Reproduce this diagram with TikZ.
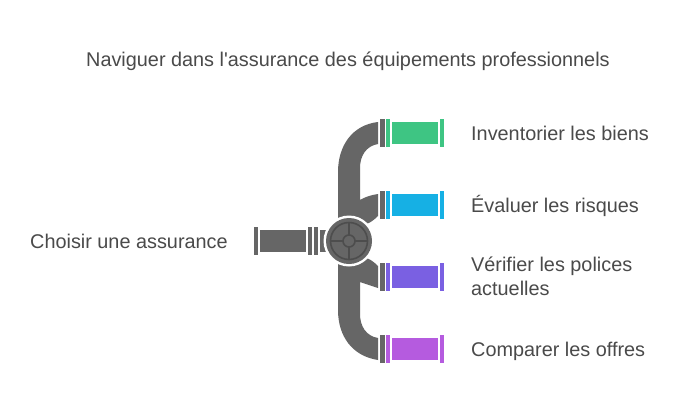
\documentclass[tikz,border=0pt]{standalone}
\usepackage{fontspec}
\newfontfamily\labelfont{Liberation Sans}
\definecolor{pipegray}{HTML}{666666}
\definecolor{valvedark}{HTML}{4D4D4D}
\definecolor{textgray}{HTML}{4A4A4A}
\definecolor{invgreen}{HTML}{3EC583}
\definecolor{riskblue}{HTML}{16B0E4}
\definecolor{polviolet}{HTML}{7A60E2}
\definecolor{offmauve}{HTML}{B55BDF}
\tikzset{
  pipe/.style={fill=pipegray, draw=none},
  label/.style={text=textgray, font=\labelfont\fontsize{19.85}{24}\selectfont, anchor=west, inner sep=0pt, align=left},
  spoke/.style={draw=valvedark, line width=1.6pt}
}
\newcommand{\flanges}[1]{
  \fill[pipegray] (380,-14) rectangle (384.5,14);
  \fill[#1] (386,-14) rectangle (390,14);
  \fill[#1] (392,-11) rectangle (438,11);
  \fill[#1] (440,-14) rectangle (444,14);
}
\begin{document}
\begin{tikzpicture}[x=1pt,y=-1pt]
  \useasboundingbox (0,0) rectangle (686,413);
  \fill[white] (0,0) rectangle (686,413);
  \node[label] (title) at (86,61) {Naviguer dans l'assurance des équipements professionnels};
  % pipes behind the valve
  \fill[pipe] (378,122) .. controls (352,125) and (338,146) .. (338,172) -- (338,310)
    .. controls (338,336) and (352,356) .. (378,360) -- (378,338)
    .. controls (366,336) and (360,326) .. (360,314) -- (360,282) -- (378,288) -- (378,266)
    .. controls (374,262) and (370,259) .. (366,258) -- (366,224)
    .. controls (370,223) and (374,220) .. (378,216) -- (378,194)
    .. controls (371,195) and (365,197) .. (360,200) -- (360,168)
    .. controls (360,156) and (366,146) .. (378,144) -- cycle;
  \begin{scope}[shift={(0,133)}]
    \flanges{invgreen}
  \end{scope}
  \begin{scope}[shift={(0,205)}]
    \flanges{riskblue}
  \end{scope}
  \begin{scope}[shift={(0,277)}]
    \flanges{polviolet}
  \end{scope}
  \begin{scope}[shift={(0,349)}]
    \flanges{offmauve}
  \end{scope}
  % incoming pipe
  \fill[pipegray] (254,227) rectangle (258,255);
  \fill[pipegray] (260,230) rectangle (306,252);
  \fill[pipegray] (308,227) rectangle (312,255);
  \fill[pipegray] (314,227) rectangle (318,255);
  \fill[pipegray] (320,230) rectangle (328,252);
  % valve
  \begin{scope}[shift={(349,241)}]
    \fill[white] (0,0) circle (25.5);
    \fill[pipegray] (0,0) circle (23);
    \draw[spoke] (0,0) circle (18.5);
    \draw[spoke] (0,-18.5) -- (0,-6);
    \draw[spoke] (0,6) -- (0,18.5);
    \draw[spoke] (-18.5,0) -- (-6,0);
    \draw[spoke] (6,0) -- (18.5,0);
    \draw[spoke] (0,0) circle (6);
  \end{scope}
  \node[label] (choisir) at (30,241) {Choisir une assurance};
  \node[label] (biens) at (471,133.5) {Inventorier les biens};
  \node[label] (risques) at (471,205.7) {Évaluer les risques};
  \node[label] (polices) at (471,276.5) {Vérifier les polices\\actuelles};
  \node[label] (offres) at (471,351) {Comparer les offres};
\end{tikzpicture}
\end{document}
